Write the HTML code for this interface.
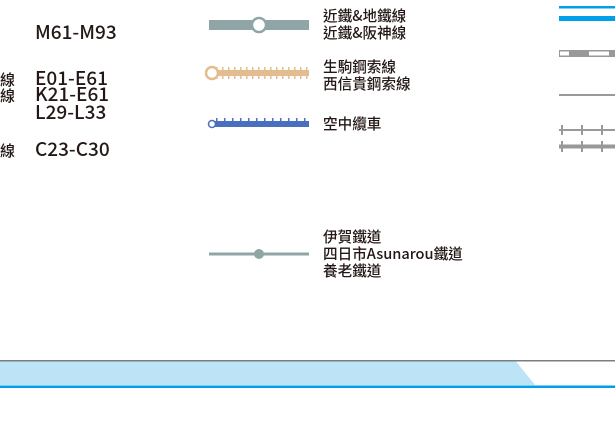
<!DOCTYPE html>
<html><head><meta charset="utf-8"><style>
html,body{margin:0;padding:0;background:#fff;width:615px;height:433px;overflow:hidden}
svg{display:block}
text{font-family:"Noto Sans CJK TC","Liberation Sans",sans-serif;fill:#231815;font-weight:500}
</style></head><body>
<svg width="615" height="433" xmlns="http://www.w3.org/2000/svg">
<defs>
<pattern id="tt" x="0" y="0" width="6" height="12" patternUnits="userSpaceOnUse"><rect x="0" y="0" width="1.5" height="12" fill="#e3bd8f"/></pattern>
<pattern id="bt" x="0" y="0" width="8" height="12" patternUnits="userSpaceOnUse"><rect x="0" y="0" width="1.5" height="12" fill="#4a6fbf"/></pattern>
</defs>
<g font-size="15">
<text x="0" y="85">線</text>
<text x="0" y="101">線</text>
<text x="0" y="156">線</text>
</g>
<g font-size="19">
<text x="35" y="39">M61-M93</text>
<text x="35" y="85">E01-E61</text>
<text x="35" y="101">K21-E61</text>
<text x="35" y="119">L29-L33</text>
<text x="35" y="156">C23-C30</text>
</g>
<rect x="209" y="20" width="100" height="10" fill="#8fa5a6"/>
<circle cx="259" cy="25" r="7" fill="#fff" stroke="#8fa5a6" stroke-width="2.5"/>
<rect x="214" y="67" width="95" height="12" fill="url(#tt)"/>
<rect x="212" y="70" width="97" height="6" fill="#e3bd8f"/>
<circle cx="212" cy="73" r="6" fill="#fff" stroke="#e3bd8f" stroke-width="2.5"/>
<rect x="216" y="118" width="93" height="6" fill="url(#bt)"/>
<rect x="212" y="121" width="97" height="6" fill="#4a6fbf"/>
<circle cx="212" cy="124" r="3.5" fill="#fff" stroke="#4a6fbf" stroke-width="1.5"/>
<rect x="209" y="252.5" width="100" height="3" fill="#8fa5a6"/>
<circle cx="259" cy="254" r="5" fill="#8fa5a6"/>
<g font-size="14.6">
<text x="323" y="21">近鐵&amp;地鐵線</text>
<text x="323" y="38">近鐵&amp;阪神線</text>
<text x="323" y="72">生駒鋼索線</text>
<text x="323" y="89">西信貴鋼索線</text>
<text x="323" y="129">空中纜車</text>
<text x="323" y="242">伊賀鐵道</text>
<text x="323" y="259">四日市Asunarou鐵道</text>
<text x="323" y="276">養老鐵道</text>
</g>
<rect x="559" y="6" width="56" height="2.5" fill="#00a0e9"/>
<rect x="559" y="16" width="56" height="5" fill="#00a0e9"/>
<rect x="559" y="50" width="56" height="7" fill="#999"/>
<rect x="560" y="51.5" width="9" height="4" fill="#fff"/>
<rect x="589" y="51.5" width="20" height="4" fill="#fff"/>
<rect x="559" y="94" width="56" height="2" fill="#999"/>
<rect x="559" y="129" width="56" height="2" fill="#999"/>
<rect x="559" y="144.5" width="56" height="4" fill="#999"/>
<g fill="#999">
<rect x="561" y="125" width="2" height="10"/><rect x="581" y="125" width="2" height="10"/><rect x="601" y="125" width="2" height="10"/>
<rect x="561" y="141" width="2" height="11"/><rect x="581" y="141" width="2" height="11"/><rect x="601" y="141" width="2" height="11"/>
</g>
<rect x="0" y="360" width="615" height="1.5" fill="#7d7d7d"/>
<polygon points="0,361.5 516,361.5 536,386 0,386" fill="#bde3f7"/>
<rect x="0" y="385" width="615" height="1" fill="#7fcdf2"/>
<rect x="0" y="386" width="615" height="2" fill="#00a0e9"/>
</svg>
</body></html>
